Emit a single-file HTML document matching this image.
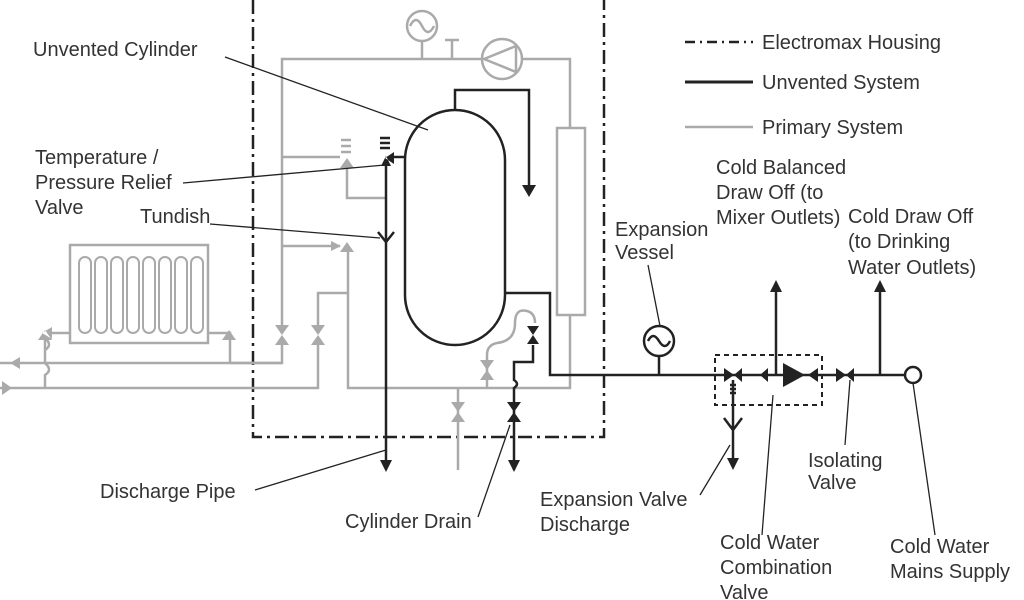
<!DOCTYPE html>
<html><head><meta charset="utf-8"><style>
html,body{margin:0;padding:0;background:#fff;}
svg{display:block;}
text{font-family:"Liberation Sans",sans-serif;font-size:20px;fill:#333;}
</style></head><body>
<svg width="1024" height="600" viewBox="0 0 1024 600" xmlns="http://www.w3.org/2000/svg">
<defs>
<marker id="ag" viewBox="0 0 10 10" refX="9" refY="5" markerWidth="4" markerHeight="4" orient="auto"><path d="M0,0L10,5L0,10z" fill="#aaa"/></marker>
</defs>
<!-- housing -->
<path d="M253,0V437H604V0" fill="none" stroke="#222" stroke-width="2.5" stroke-dasharray="14,5,3,5"/>
<!-- primary system gray -->
<g fill="none" stroke="#aaa" stroke-width="2.5">
<path d="M282,330V59H482M522,59H570V128"/>
<rect x="557" y="128" width="28" height="187"/>
<path d="M570,315V388H348V250"/>
<circle cx="422" cy="26" r="15"/><path d="M410,26q6,-12 12,0t12,0" />
<path d="M422,41V59M452,59V40M445,40H459"/>
<circle cx="502" cy="59" r="20"/><path d="M484,59L516,46V72Z"/>
<path d="M282,157H340M282,246H340" marker-end="url(#ag)"/>
<path d="M347,165V198H387"/>
<path d="M341,140h10M341,146h10M341,152h10"/>
<path d="M282,340V363H0M318,340V388H0M318,330V293H348"/>
<path d="M458,388V470M487,388V355q0,-10 10,-12q18,-2 18,-20q0,-15 12,-12q8,2 8,12"/>
<rect x="70" y="245" width="138" height="98"/>
<g stroke-width="2">
<rect x="79" y="257" width="12" height="76" rx="6"/><rect x="95" y="257" width="12" height="76" rx="6"/><rect x="111" y="257" width="12" height="76" rx="6"/><rect x="127" y="257" width="12" height="76" rx="6"/><rect x="143" y="257" width="12" height="76" rx="6"/><rect x="159" y="257" width="12" height="76" rx="6"/><rect x="175" y="257" width="12" height="76" rx="6"/><rect x="191" y="257" width="12" height="76" rx="6"/>
</g>
<path d="M70,333H52M45,340V350q8,-5 0,-12M45,363V350M208,333H230V363"/>
<path d="M230,363H282"/>
<path d="M45,388V375q8,-5 0,-12"/>
</g>
<g fill="#aaa">
<path d="M275,325h14l-7,10zM275,345h14l-7,-10z"/>
<path d="M311,325h14l-7,10zM311,345h14l-7,-10z"/>
<path d="M451,402h14l-7,10zM451,422h14l-7,-10z"/>
<path d="M480,360h14l-7,10zM480,380h14l-7,-10z"/>
<path d="M340,168h14l-7,-10z"/>
<path d="M340,252h14l-7,-10z"/>
<path d="M38,340h14l-7,-10zM52,327v12l-10,-6zM222,340h14l-7,-10zM10,363l10,-6v12zM2,381v14l10,-7z"/>
</g>
<!-- unvented black -->
<g fill="none" stroke="#222" stroke-width="2.5">
<rect x="405" y="110" width="100" height="235" rx="50"/>
<path d="M455,110V90H529V185"/>
<path d="M386,165V460"/>
<path d="M378,232L386,242L394,232"/>
<path d="M405,157H392"/>
<path d="M505,293H550V375H905"/>
<path d="M533,345V362H514V380q6,4 0,8V470"/>
<path d="M380,138h10M380,143h10M380,148h10"/>
<circle cx="913" cy="375" r="8" fill="#fff"/>
<circle cx="659" cy="341" r="15" fill="#fff"/><path d="M648,341q5,-10 11,0t11,0"/>
<path d="M659,356V375"/>
<path d="M776,375V290M880,375V290"/>
<path d="M733,380V430M724,418L733,430L742,418M733,430V460"/>
<path d="M730,385h6M730,389h6M730,393h6"/>
</g>
<g fill="#222">
<path d="M527,326h12l-6,9zM527,344h12l-6,-9z"/>
<path d="M507,402h14l-7,10zM507,422h14l-7,-10z"/>
<path d="M381,166h10l-5,-10zM394,152v12l-9,-6z"/>
<path d="M522,185h14l-7,12z"/>
<path d="M380,460h12l-6,12zM508,460h12l-6,12z"/>
<path d="M770,292h12l-6,-12zM874,292h12l-6,-12z"/>
<path d="M727,458h12l-6,12z"/>
<path d="M724,368v14l10,-7zM742,368v14l-8,-7z"/>
<path d="M765,369v12M768,368v14l-8,-7z"/>
<path d="M783,363v24l22,-12zM818,368v14l-10,-7z"/>
<path d="M836,368v14l10,-7zM854,368v14l-8,-7z"/>
</g>
<rect x="715" y="355" width="107" height="50" fill="none" stroke="#222" stroke-width="2" stroke-dasharray="5,4"/>
<!-- leaders -->
<g stroke="#222" stroke-width="1.3" fill="none">
<path d="M225,57L428,130M183,183L385,165M210,224L380,238M255,490L386,450M478,517L510,425M700,495L730,445M762,535L773,395M845,445L850,380M935,535L913,383M648,265L660,326"/>
</g>
<!-- legend -->
<path d="M685,42H753" stroke="#222" stroke-width="2.5" stroke-dasharray="10,5,2,5"/>
<path d="M685,82H753" stroke="#222" stroke-width="3"/>
<path d="M685,127H753" stroke="#aaa" stroke-width="2.5"/>
<text x="762" y="49">Electromax Housing</text>
<text x="762" y="89">Unvented System</text>
<text x="762" y="134">Primary System</text>
<!-- labels -->
<text x="33" y="56">Unvented Cylinder</text>
<text x="35" y="164">Temperature /</text>
<text x="35" y="189">Pressure Relief</text>
<text x="35" y="214">Valve</text>
<text x="140" y="223">Tundish</text>
<text x="100" y="498">Discharge Pipe</text>
<text x="345" y="528">Cylinder Drain</text>
<text x="540" y="506">Expansion Valve</text>
<text x="540" y="531">Discharge</text>
<text x="720" y="549">Cold Water</text>
<text x="720" y="574">Combination</text>
<text x="720" y="599">Valve</text>
<text x="808" y="467">Isolating</text>
<text x="808" y="489">Valve</text>
<text x="890" y="553">Cold Water</text>
<text x="890" y="578">Mains Supply</text>
<text x="615" y="236">Expansion</text>
<text x="615" y="259">Vessel</text>
<text x="716" y="174">Cold Balanced</text>
<text x="716" y="199">Draw Off (to</text>
<text x="716" y="224">Mixer Outlets)</text>
<text x="848" y="223">Cold Draw Off</text>
<text x="848" y="248">(to Drinking</text>
<text x="848" y="274">Water Outlets)</text>
</svg>
</body></html>
